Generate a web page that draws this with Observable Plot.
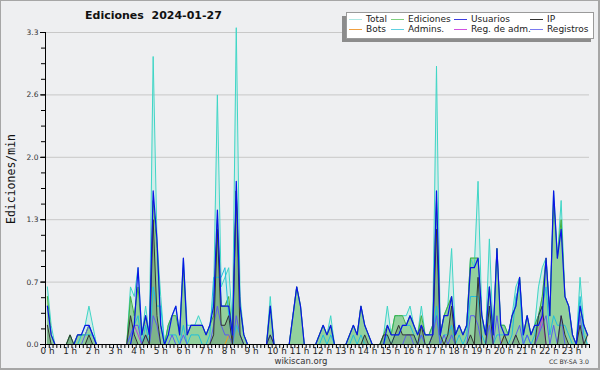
<!DOCTYPE html>
<html><head><meta charset="utf-8">
<script src="https://cdn.jsdelivr.net/npm/d3@7"></script>
<script src="https://cdn.jsdelivr.net/npm/@observablehq/plot@0.6"></script>
<style>
html,body{margin:0;padding:0;background:#eeeff1;}
#wrap{position:relative;width:600px;height:370px;background:#eeeff1;overflow:hidden;font-family:"DejaVu Sans",sans-serif;color:#222;}
#chart{position:absolute;left:0;top:0;}
#border{position:absolute;left:0;top:0;width:597px;height:367px;border:1px solid #a6a6a6;border-right-width:2px;border-bottom-width:2px;pointer-events:none;}
#title{position:absolute;left:85px;top:9px;font-size:11px;font-weight:bold;white-space:pre;color:#111;}
#ylabel{position:absolute;left:11px;top:179px;font-family:"DejaVu Sans Mono",monospace;font-size:11.5px;transform:translate(-50%,-50%) rotate(-90deg);white-space:nowrap;color:#111;}
#foot{position:absolute;left:301px;top:356px;transform:translateX(-50%);font-size:8.5px;color:#333;}
#cc{position:absolute;left:549px;top:358px;font-size:6.2px;color:#333;white-space:nowrap;}
#legshadow{position:absolute;left:342px;top:16px;width:249px;height:26px;background:#8c8c8c;}
#legend{position:absolute;left:346px;top:12px;width:246px;height:25px;background:#fff;border:1px solid #9a9a9a;}
.li{position:absolute;font-size:9px;line-height:10px;white-space:nowrap;color:#222;}
.li i{position:absolute;top:5px;height:0;border-top:1px solid;width:13px;}
</style></head>
<body>
<div id="wrap">
  <div id="title"></div>
  <div id="ylabel"></div>
  <div id="legshadow"></div>
  <div id="legend"></div>
  <div id="foot"></div>
  <div id="cc"></div>
  <div id="border"></div>
</div>
<script>
// ---- data: values per 10-minute slot (edits per minute), 144 slots ----
const titleText = "Ediciones  2024-01-27";
const yAxisTitle = "Ediciones/min";
const hourLabels = d3.range(24).map(h => h + " h");
const yTickValues = [0, 0.65, 1.3, 1.95, 2.6, 3.25];
const yTickLabels = ["0.0", "0.7", "1.3", "2.0", "2.6", "3.3"];

const total = [
 .6,.2,0,0,0,0,.1,0,.1,.1,.2,.4,
 .2,0,0,0,0,0,0,0,0,0,.6,.5,
 .8,.1,.4,.1,3.0,1.1,.5,0,.2,.3,.4,.1,
 .9,.2,.2,.2,.3,.2,.1,.2,.5,2.6,.6,.7,
 .8,.2,3.3,.5,.1,0,0,0,0,0,0,.5,
 0,0,0,0,0,.3,.6,.4,0,0,0,0,
 .1,.2,.1,.3,0,0,0,0,.1,.2,.1,.4,
 .2,.1,0,0,0,.1,.4,.1,.3,.3,.3,.3,
 .4,.2,.1,.4,.1,.1,.2,2.9,.1,.3,.4,1.0,
 .1,.2,.1,.2,.9,.8,1.7,.3,.1,1.1,.1,1.0,
 .2,.2,.1,.3,.6,.7,.1,.3,.1,.2,.6,.8,
 .9,.3,1.6,.9,1.5,.5,.4,.1,0,.7,.2,.1];

const ediciones = [
 .5,.1,0,0,0,0,.1,0,.1,.1,.1,.2,
 .1,0,0,0,0,0,0,0,0,0,.5,.3,
 .6,.1,.3,.1,1.5,1.0,.2,0,.2,.3,.3,.1,
 .8,.1,.2,.2,.2,.2,.1,.2,.3,1.3,.4,.4,
 .5,.1,1.6,.4,.1,0,0,0,0,0,0,.4,
 0,0,0,0,0,.3,.6,.4,0,0,0,0,
 .1,.2,.1,.2,0,0,0,0,.1,.2,.1,.4,
 .2,.1,0,0,0,.1,.2,.1,.3,.3,.3,.2,
 .3,.2,.1,.3,.1,.1,.2,1.5,.1,.3,.4,.5,
 .1,.2,.1,.2,.9,.9,.9,.3,.1,.6,.1,1.0,
 .2,.2,.1,.3,.4,.7,.1,.3,.1,.2,.3,.5,
 .9,.3,1.5,.9,1.3,.5,.4,.1,0,.4,.2,.1];

const usuarios = [
 .4,.1,0,0,0,0,0,0,.1,.1,.2,.2,
 .1,0,0,0,0,0,0,0,0,0,0,.2,
 .8,.1,.3,.1,1.6,1.1,.2,0,.1,.3,.4,.1,
 .9,.1,.2,.2,.2,.2,.1,.2,.4,1.4,.4,.4,
 .4,.1,1.7,.4,.1,0,0,0,0,0,0,.4,
 0,0,0,0,0,.3,.6,.4,0,0,0,0,
 .1,.2,.1,.2,0,0,0,0,.1,.2,.1,.4,
 .2,.1,0,0,0,0,.2,.1,.1,.1,.2,.2,
 .3,.2,.1,.2,.1,.1,.1,1.6,.1,.3,.3,.5,
 .1,.2,.1,.2,.8,.8,.9,.3,.1,.6,.1,1.0,
 .2,.1,.1,.3,.4,.7,.1,.3,.1,.2,.2,.3,
 .9,.3,1.6,.9,1.2,.5,.4,.1,0,.4,.2,.1];

const ip = [
 .2,0,0,0,0,0,.1,0,0,0,0,.1,
 0,0,0,0,0,0,0,0,0,0,.3,.1,
 0,0,.1,0,1.3,.3,0,0,0,0,0,0,
 0,0,0,0,0,0,0,0,.1,1.2,.2,.2,
 .3,0,1.6,.1,0,0,0,0,0,0,0,.1,
 0,0,0,0,0,0,0,0,0,0,0,0,
 0,0,0,0,0,0,0,0,0,0,0,0,
 .1,0,0,0,0,.1,.1,0,.1,.2,.1,.1,
 .1,.1,0,.2,0,0,.1,1.2,.1,0,.1,.4,
 0,0,0,0,.1,0,.7,0,0,.4,0,0,
 0,.1,0,0,.1,0,0,0,0,0,.3,.4,
 0,0,0,0,.3,.1,0,0,0,.2,0,.1];

const bots = [
 0,0,0,0,0,0,0,0,0,0,0,0,
 0,0,0,0,0,0,0,0,0,0,0,0,
 0,0,0,0,0,0,0,0,0,0,0,0,
 0,0,0,0,0,0,0,0,0,0,0,0,
 .1,0,0,0,0,0,0,0,0,0,0,0,
 0,0,0,0,0,0,0,0,0,0,0,0,
 0,0,0,0,0,0,0,0,0,0,0,0,
 0,0,0,0,0,0,0,0,0,0,0,0,
 0,0,0,0,0,0,0,0,0,0,0,0,
 0,0,0,0,0,0,0,0,0,0,0,0,
 0,.1,0,0,0,0,0,0,0,0,0,0,
 0,0,0,0,0,0,0,0,0,0,0,0];

const admins = [
 0,0,0,0,0,0,0,0,0,.1,.1,.1,
 .1,0,0,0,0,0,0,0,0,0,.1,.2,
 .3,0,.2,0,.6,.4,.4,0,.1,.1,.1,0,
 .2,0,.1,.1,.1,0,0,.1,.7,.7,.7,.8,
 .3,0,.2,.1,0,0,0,0,0,0,0,.1,
 0,0,0,0,0,0,0,0,0,0,0,0,
 0,.1,0,.1,0,0,0,0,0,.1,0,.1,
 0,0,0,0,0,0,.1,0,.1,.1,.2,.2,
 .2,.1,0,.1,0,0,.1,.4,0,.1,.1,.2,
 0,.1,0,.1,.5,.5,.5,.1,0,.4,0,.1,
 .1,.1,0,.1,.5,.6,0,.1,0,.1,.3,.4,
 .6,.1,.3,.2,.2,.2,.1,0,0,.5,.1,0];

const regAdm = [
 0,0,0,0,0,0,0,0,0,0,0,0,
 0,0,0,0,0,0,0,0,0,0,.1,.2,
 .1,0,0,0,0,0,0,0,0,0,0,0,
 0,0,0,0,0,0,0,0,0,0,0,0,
 0,0,0,0,0,0,0,0,0,0,0,0,
 0,0,0,0,0,0,0,0,0,0,0,0,
 0,0,0,0,0,0,0,0,0,0,0,0,
 0,0,0,0,0,0,0,0,0,0,0,0,
 0,0,0,0,0,0,0,0,0,0,0,0,
 0,0,0,0,0,0,0,0,0,0,0,0,
 0,0,0,0,0,0,0,0,0,0,.1,.3,
 0,0,0,0,0,0,0,0,0,0,0,0];

const registros = [
 0,0,0,0,0,0,0,0,0,0,.1,.2,
 .1,0,0,0,0,0,0,0,0,0,.1,.2,
 .2,0,.1,0,.3,.2,0,0,0,.1,0,0,
 .1,0,0,0,0,0,0,0,.2,.4,.2,.1,
 .1,0,.3,.1,0,0,0,0,0,0,0,.1,
 0,0,0,0,0,0,0,0,0,0,0,0,
 0,0,0,0,0,0,0,0,0,0,0,0,
 0,0,0,0,0,0,0,0,0,0,0,.1,
 .1,0,0,.1,0,0,.1,.3,0,.1,0,.1,
 0,0,0,0,.3,.3,.2,0,0,.2,0,.3,
 0,0,0,0,.1,.2,0,.1,0,0,.1,.2,
 .3,0,.2,0,.3,0,0,0,0,.3,0,0];

const seriesNames = ["Total","Ediciones","Usuarios","IP","Bots","Admins.","Reg. de adm.","Registros"];
const seriesColors = ["#3fd6c6","#40b040","#0a14e6","#333333","#f39a1f","#1fbfdc","#c03ad8","#5a5cf0"];
const legendColors = ["#aee8e4","#7fd07f","#3c3ce0","#333333","#f0a040","#5fd0e0","#d050e0","#7a7af0"];
const seriesValues = [total, ediciones, usuarios, ip, bots, admins, regAdm, registros];

// ---- build table ----
const slotMinutes = d3.range(144).map(i => i * 10 + 5);
const rowsOf = vals => vals.map((v, i) => ({t: slotMinutes[i], v}));
const hourTicks = d3.range(24).map(h => h * 60);
const hourLabelMap = new Map(hourTicks.map((t, i) => [t, hourLabels[i]]));
const yLabelMap = new Map(yTickValues.map((t, i) => [t, yTickLabels[i]]));
const minorY = d3.range(0, 21).map(k => k * 0.1625);

const lineOrder = [0, 1, 6, 4, 5, 7, 3, 2];
const lineMarks = lineOrder.map(k =>
  Plot.lineY(rowsOf(seriesValues[k]), {x: "t", y: "v", stroke: seriesColors[k], strokeWidth: k === 2 ? 1.2 : 1}));

const chart = Plot.plot({
  width: 600, height: 370,
  marginLeft: 45, marginRight: 11, marginTop: 32, marginBottom: 26,
  style: {background: "transparent", fontFamily: "'DejaVu Sans',sans-serif", fontSize: "8.8px", color: "#222"},
  x: {domain: [0, 1440], axis: null},
  y: {domain: [0, 3.25], axis: null},
  marks: [
    Plot.ruleY(yTickValues.slice(1), {stroke: "#c8c8c8"}),
    Plot.areaY(rowsOf(total), {x: "t", y: "v", fill: "#7fe3d8", fillOpacity: 0.25}),
    Plot.areaY(rowsOf(ediciones), {x: "t", y: "v", fill: "#5cbc5c", fillOpacity: 0.55}),
    Plot.areaY(rowsOf(ip), {x: "t", y: "v", fill: "#304040", fillOpacity: 0.2}),
    ...lineMarks,
    Plot.axisY(minorY, {tickSize: 4, tickFormat: () => "", label: null, stroke: "#000"}),
    Plot.axisY(yTickValues, {tickSize: 5, tickPadding: 2, tickFormat: d => yLabelMap.get(d), label: null, stroke: "#000", fill: "#333", fontSize: "7.5px"}),
    Plot.axisX(d3.range(0, 1441, 10), {tickSize: 4, tickFormat: () => "", label: null, stroke: "#000"}),
    Plot.axisX(hourTicks, {tickSize: 0, tickPadding: 3, tickFormat: d => hourLabelMap.get(d), label: null, textAnchor: "start", dx: -5, fontSize: "8.8px", fill: "#222"}),
    Plot.ruleX([0], {stroke: "#000"}),
    Plot.ruleY([0], {stroke: "#000"})
  ]
});
chart.id = "chart";
document.getElementById("wrap").prepend(chart);

document.getElementById("title").textContent = titleText;
document.getElementById("ylabel").textContent = yAxisTitle;
document.getElementById("foot").textContent = "wikiscan.org";
document.getElementById("cc").textContent = "CC BY-SA 3.0";

const legCols = [2, 44, 107, 183];
const legRows = [1, 11];
const leg = document.getElementById("legend");
seriesNames.forEach((name, k) => {
  const col = k % 4, row = Math.floor(k / 4);
  const d = document.createElement("div");
  d.className = "li";
  d.style.left = legCols[col] + "px";
  d.style.top = legRows[row] + "px";
  d.innerHTML = `<i style="border-color:${legendColors[k]}"></i><span style="margin-left:17px">${name}</span>`;
  leg.appendChild(d);
});
</script>
</body></html>
